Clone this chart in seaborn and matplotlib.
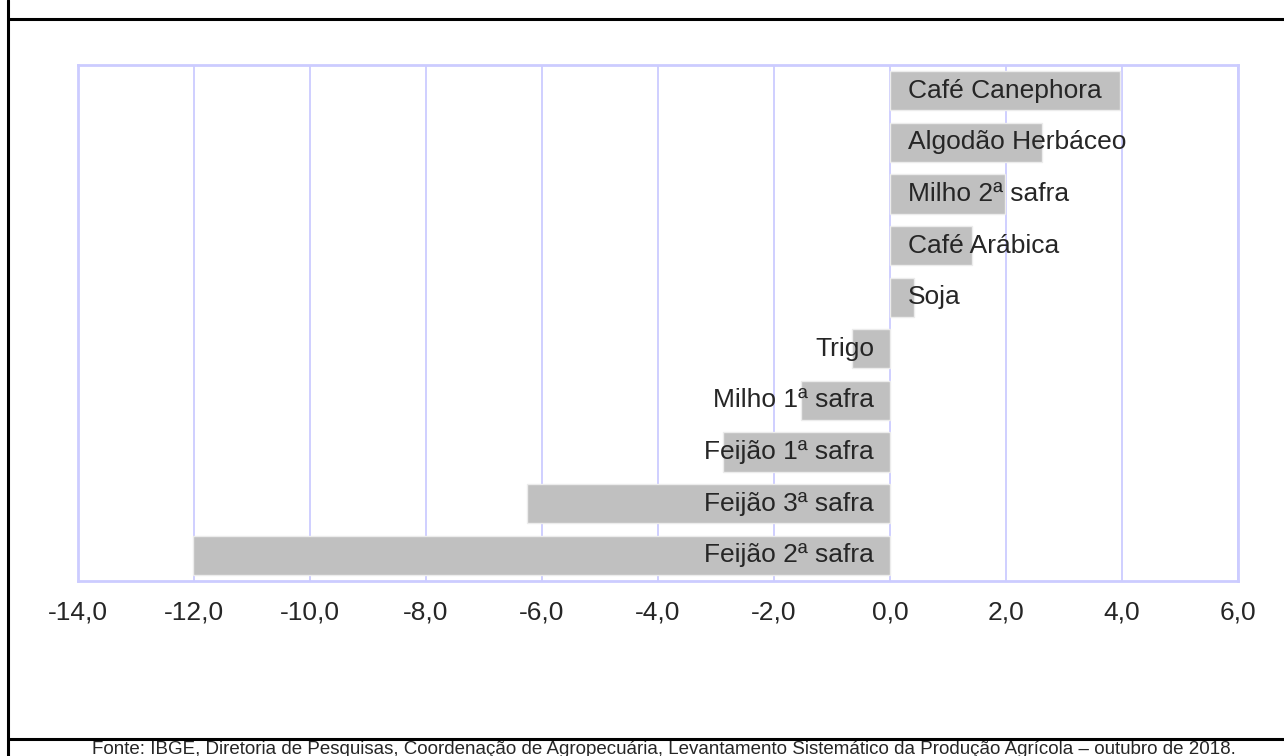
import seaborn as sns
import matplotlib.pyplot as plt
import pandas as pd
from matplotlib.lines import Line2D

culturas = ["Café Canephora", "Algodão Herbáceo", "Milho 2ª safra", "Café Arábica", "Soja",
            "Trigo", "Milho 1ª safra", "Feijão 1ª safra", "Feijão 3ª safra", "Feijão 2ª safra"]
variacao = [3.97, 2.63, 1.98, 1.41, 0.42, -0.65, -1.53, -2.87, -6.26, -12.02]
ticks = [-14, -12, -10, -8, -6, -4, -2, 0, 2, 4, 6]
fonte = ("Fonte: IBGE, Diretoria de Pesquisas, Coordenação de Agropecuária, "
         "Levantamento Sistemático da Produção Agrícola – outubro de 2018.")

df = pd.DataFrame({"cultura": culturas, "variacao": variacao})

sns.set_style("white")
plt.rcParams["font.family"] = ["Liberation Sans", "DejaVu Sans"]

fig = plt.figure(figsize=(12.84, 7.56), dpi=100)
ax = fig.add_axes([0.0607, 0.2315, 0.9034, 0.6825])

sns.barplot(data=df, x="variacao", y="cultura", orient="h", color="#c0c0c0",
            saturation=1, width=0.76, edgecolor="#ececec", linewidth=1, ax=ax, zorder=3)

ax.set_xlim(-14, 6)
ax.set_xticks(ticks)
ax.set_xticklabels([f"{t:.1f}".replace(".", ",") for t in ticks], fontsize=19)
ax.tick_params(axis="x", length=0, pad=14)
ax.set_yticks([])
ax.set_xlabel("")
ax.set_ylabel("")
ax.grid(axis="x", color="#ccccff", linewidth=1.3, zorder=0)
ax.set_axisbelow(True)
for s in ax.spines.values():
    s.set_color("#ccccff")
    s.set_linewidth(2)

for i, (nome, v) in enumerate(zip(culturas, variacao)):
    if v >= 0:
        ax.annotate(nome, (0, i), xytext=(18, 0), textcoords="offset pixels",
                    ha="left", va="center", fontsize=19, zorder=5)
    else:
        ax.annotate(nome, (0, i), xytext=(-16, 0), textcoords="offset pixels",
                    ha="right", va="center", fontsize=19, zorder=5)

# moldura
W, H = 1284, 756
fig.add_artist(Line2D([8 / W, 8 / W], [0, 1], color="black", linewidth=2.2))
fig.add_artist(Line2D([8 / W, 1], [1 - 19 / H, 1 - 19 / H], color="black", linewidth=2.2))
fig.add_artist(Line2D([8 / W, 1], [1 - 739 / H, 1 - 739 / H], color="black", linewidth=2.2))

fig.text(664 / W, 1 - 754 / H, fonte, ha="center", va="baseline", fontsize=13.5)

fig.savefig("out.png", dpi=100)
